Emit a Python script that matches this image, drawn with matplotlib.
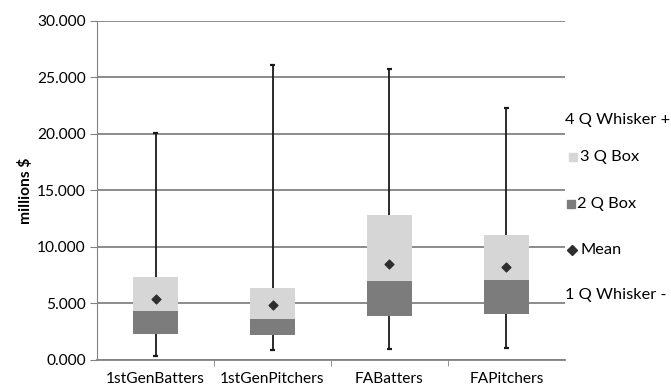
import matplotlib.pyplot as plt
import numpy as np

# values (millions $)
categories = ["1stGenBatters", "1stGenPitchers", "FABatters", "FAPitchers"]
whisker_min = [0.35, 0.88, 0.95, 1.03]
q1 = [2.30, 2.21, 3.89, 4.07]
median = [4.33, 3.63, 6.98, 7.07]
q3 = [7.36, 6.39, 12.82, 11.05]
whisker_max = [20.05, 26.1, 25.7, 22.3]
means = [5.37, 4.86, 8.46, 8.25]

legend_labels = ["4 Q Whisker +", "3 Q Box", "2 Q Box", "Mean", "1 Q Whisker -"]

light = "#d6d6d6"
dark = "#7c7c7c"
grid = "#828282"

plt.rcParams['font.family'] = ['Lato', 'DejaVu Sans']
fs = 11.2

fig = plt.figure(figsize=(6.71, 3.91), dpi=100)
ax = fig.add_axes([0.1446, 0.0793, 0.842 - 0.1446, 0.947 - 0.0793])

x = np.arange(len(categories))
q1 = np.array(q1)
median = np.array(median)
q3 = np.array(q3)

# whiskers behind the boxes
ax.vlines(x, whisker_min, whisker_max, color="#1a1a1a", lw=1.3, zorder=2)
ax.hlines(whisker_min, x - 0.025, x + 0.025, color="#1a1a1a", lw=1.6, zorder=2)
ax.hlines(whisker_max, x - 0.025, x + 0.025, color="#1a1a1a", lw=1.6, zorder=2)

# 2Q box (dark) and 3Q box (light)
ax.bar(x, median - q1, bottom=q1, width=0.39, color=dark, zorder=3)
ax.bar(x, q3 - median, bottom=median, width=0.39, color=light, zorder=3)

ax.scatter(x, means, marker="D", s=20, color="#2e2e2e", zorder=4)

ax.set_xlim(-0.5, len(categories) - 0.5)
ax.set_ylim(0, 30)
ax.set_yticks(np.arange(0, 30.1, 5))
ax.set_yticklabels([f"{v:.3f}" for v in np.arange(0, 30.1, 5)], fontsize=fs)
ax.set_xticks(x)
ax.set_xticklabels(categories, fontsize=fs)
ax.set_xticks(np.arange(0.5, len(categories) - 1, 1), minor=True)
ax.tick_params(axis="x", which="major", length=0, pad=9)
ax.tick_params(axis="x", which="minor", length=4, color=grid)
ax.tick_params(axis="y", length=5, color=grid, pad=3)

ax.grid(axis="y", color=grid, lw=1.3, zorder=0)
ax.set_axisbelow(True)
for side in ["top", "right"]:
    ax.spines[side].set_visible(False)
ax.spines["left"].set_color(grid)
ax.spines["bottom"].set_color(grid)
ax.spines["bottom"].set_linewidth(1.3)

ax.set_ylabel("millions $", fontsize=fs, fontweight="bold", labelpad=3)

# hand-placed legend on the right, clipped by the figure edge like the original
lfs = 11.8
fig.text(565 / 671, 1 - 120 / 391, legend_labels[0], fontsize=lfs, va="center")
fig.text(580 / 671, 1 - 157 / 391, legend_labels[1], fontsize=lfs, va="center")
fig.text(577 / 671, 1 - 204 / 391, legend_labels[2], fontsize=lfs, va="center")
fig.text(580 / 671, 1 - 250 / 391, legend_labels[3], fontsize=lfs, va="center")
fig.text(565 / 671, 1 - 295 / 391, legend_labels[4], fontsize=lfs, va="center")
fig.add_artist(plt.Line2D([573 / 671], [1 - 157 / 391], marker="s", ms=6,
                          color=light, ls="none", transform=fig.transFigure))
fig.add_artist(plt.Line2D([571 / 671], [1 - 204 / 391], marker="s", ms=6,
                          color=dark, ls="none", transform=fig.transFigure))
fig.add_artist(plt.Line2D([572 / 671], [1 - 250 / 391], marker="D", ms=5,
                          color="#2e2e2e", ls="none", transform=fig.transFigure))

fig.savefig("out.png", dpi=100)
